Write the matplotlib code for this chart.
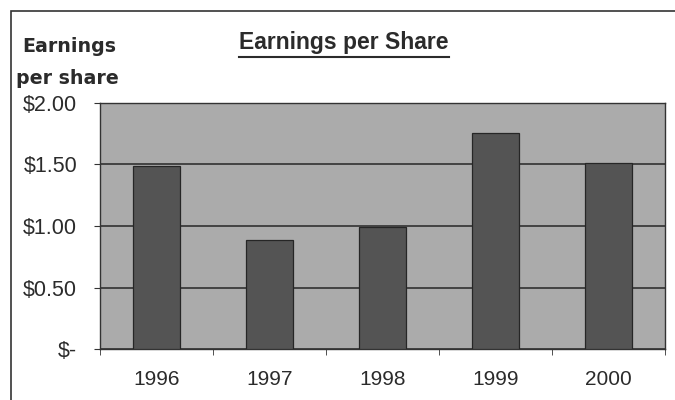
import matplotlib
matplotlib.use("Agg")
import matplotlib.pyplot as plt
from matplotlib.lines import Line2D
from matplotlib.patches import Rectangle
from matplotlib.ticker import FixedLocator, FuncFormatter

years = ["1996", "1997", "1998", "1999", "2000"]
eps = [1.49, 0.89, 0.99, 1.76, 1.51]
y_ticks = [0.0, 0.5, 1.0, 1.5, 2.0]
y_tick_labels = ["$-", "$0.50", "$1.00", "$1.50", "$2.00"]

plt.rcParams["font.family"] = ["Liberation Sans", "DejaVu Sans"]
ink = "#2b2b2b"

fig = plt.figure(figsize=(6.75, 4.0), dpi=100)
fig.patch.set_facecolor("white")

# outer chart frame
fig.add_artist(Rectangle((11 / 675, -0.02), 1.0, 1 - 11 / 400 + 0.02,
                         transform=fig.transFigure, fill=False,
                         edgecolor="#333333", linewidth=1.2))

ax = fig.add_axes([100 / 675, 1 - 349 / 400, 565 / 675, 246 / 400])
ax.set_facecolor("#ababab")

x = list(range(len(years)))
ax.bar(x, eps, width=0.41, color="#545454", edgecolor="#262626",
       linewidth=0.9, zorder=3)

ax.set_xlim(-0.5, len(years) - 0.5)
ax.set_ylim(0, 2.0)

ax.yaxis.set_major_locator(FixedLocator(y_ticks))
ax.yaxis.set_major_formatter(FuncFormatter(lambda v, i: y_tick_labels[i]))
ax.grid(axis="y", color="#262626", linewidth=1.1, zorder=1)

# year labels centred on bars, ticks between categories
ax.set_xticks(x)
ax.set_xticklabels(years)
ax.tick_params(axis="x", which="major", length=0, pad=15, labelsize=15,
               labelcolor=ink)
ax.set_xticks([i + 0.5 for i in range(-1, len(years))], minor=True)
ax.tick_params(axis="x", which="minor", length=4, direction="out",
               color="#333333")
ax.tick_params(axis="y", length=4.5, direction="out", pad=12, labelsize=15.5,
               labelcolor=ink, color="#333333")

for side in ["left", "bottom", "top", "right"]:
    ax.spines[side].set_color("#333333")
    ax.spines[side].set_linewidth(1.0)

# axis caption in the upper left
fig.text(22 / 675, 1 - 46 / 400, "Earnings", fontsize=13.7, fontweight="bold",
         color=ink, family=["DejaVu Sans"], ha="left", va="center")
fig.text(16 / 675, 1 - 78 / 400, "per share", fontsize=13.7, fontweight="bold",
         color=ink, family=["DejaVu Sans"], ha="left", va="center")

# underlined title
title = fig.text(344 / 675, 1 - 43 / 400, "Earnings per Share",
                 fontsize=16.5, fontweight="bold", color=ink,
                 ha="center", va="center")
fig.canvas.draw()
bb = title.get_window_extent().transformed(fig.transFigure.inverted())
uy = 1 - 57 / 400
fig.add_artist(Line2D([bb.x0, bb.x1], [uy, uy],
                      transform=fig.transFigure, color=ink,
                      linewidth=1.5))

fig.savefig("out.png", dpi=100)
